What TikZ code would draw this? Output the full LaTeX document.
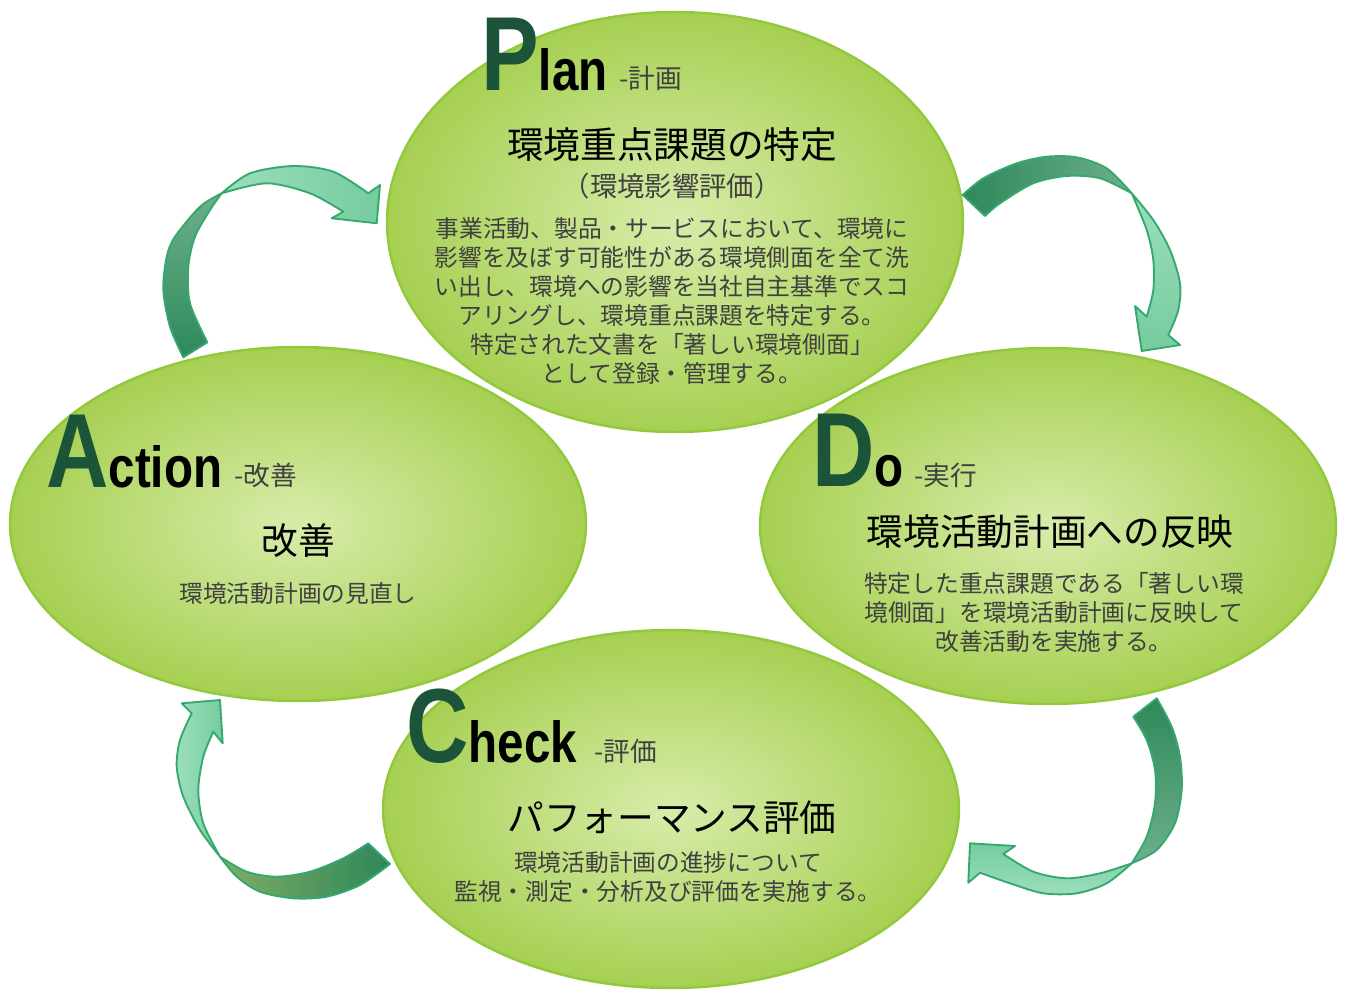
\documentclass[tikz,border=0pt]{standalone}
\usepackage{fontspec}
\newfontfamily\jp{Noto Sans CJK JP}
\newfontfamily\lat{Liberation Sans}[FakeStretch=0.82]
\definecolor{ellin}{RGB}{216,236,170}
\definecolor{ellout}{RGB}{166,208,82}
\definecolor{ellborder}{RGB}{146,200,60}
\definecolor{letgreen}{RGB}{27,84,56}
\definecolor{txtgray}{RGB}{64,64,64}
\definecolor{arrdark}{RGB}{46,136,90}
\definecolor{arrmid}{RGB}{108,176,140}
\definecolor{arrlight}{RGB}{156,222,188}
\definecolor{arrlight2}{RGB}{118,204,158}
\definecolor{arrolive}{RGB}{128,172,100}
\definecolor{arrborder}{RGB}{52,168,110}
\newcommand\bigL{\lat\bfseries\fontsize{79}{79}\selectfont\color{letgreen}}
\newcommand\midL{\lat\bfseries\fontsize{43.5}{43.5}\selectfont\color{black}}
\tikzset{
  halo/.style={draw=white, line width=6pt},
  ell/.style={shade, inner color=ellin, outer color=ellout, draw=ellborder, line width=1.8pt},
  arrpart/.style={draw=arrborder, line width=1.4pt, line join=round},
  lab/.style={anchor=base west, inner sep=0pt},
  tagJ/.style={anchor=base west, inner sep=0pt, font=\jp\fontsize{20}{20}\selectfont, text=txtgray},
  titJ/.style={inner sep=0pt, align=center, font=\jp\fontsize{27.5}{33}\selectfont, text=black},
  subJ/.style={inner sep=0pt, align=center, font=\jp\fontsize{20.5}{24}\selectfont, text=txtgray},
  bodyJ/.style={inner sep=0pt, align=center, font=\jp\fontsize{17.8}{21.75}\selectfont, text=txtgray},
}
\begin{document}
\begin{tikzpicture}[x=0.75pt, y=-0.75pt]
\useasboundingbox (0,0) rectangle (1345,989);
% ellipses
\coordinate (cP) at (675,222);
\coordinate (cA) at (298,524);
\coordinate (cD) at (1048,526);
\coordinate (cC) at (671,809);
\path[halo] (cP) ellipse [x radius=288, y radius=210];
\path[ell] (cP) ellipse [x radius=288, y radius=210];
\path[halo] (cA) ellipse [x radius=288, y radius=177];
\path[ell] (cA) ellipse [x radius=288, y radius=177];
\path[halo] (cD) ellipse [x radius=288, y radius=178];
\path[ell] (cD) ellipse [x radius=288, y radius=178];
\path[halo] (cC) ellipse [x radius=288, y radius=179];
\path[ell] (cC) ellipse [x radius=288, y radius=179];

% arrow 1 (Action -> Plan)
\path[arrpart, shade, top color=arrmid, bottom color=arrdark]
  plot[smooth] coordinates {(183.3,357.3) (170,326.7) (163.3,290) (166.7,256.7) (175,236.7) (200,206.7) (221.7,193.3)}
  -- plot[smooth] coordinates {(221.7,193.3) (210,210) (195,236.7) (188.3,266.7) (190,303.3) (207.3,342.3)} -- cycle;
\path[arrpart, shade, left color=arrlight, right color=arrlight2]
  plot[smooth] coordinates {(221.7,193.3) (250,173.3) (293.3,166) (333.3,171.7) (368.3,193.3)}
  -- (380,185) -- (376.7,223.3) -- (331.7,218.3)
  -- plot[smooth] coordinates {(343.3,211.7) (310,193.3) (266.7,183.3) (221.7,193.3)} -- cycle;

% arrow 2 (Plan -> Do)
\path[arrpart, shade, left color=arrdark, right color=arrmid]
  plot[smooth] coordinates {(962.7,195) (983.3,178.3) (1016.7,163.3) (1046.7,156.7) (1076.7,157.3) (1106.7,168.3) (1131.7,193.3)}
  -- plot[smooth] coordinates {(1131.7,193.3) (1100,178.3) (1066.7,176) (1033.3,183.3) (1000,203.3) (985,216)} -- cycle;
\path[arrpart, shade, top color=arrlight, bottom color=arrlight2]
  plot[smooth] coordinates {(1131.7,193.3) (1153.3,220) (1170,250) (1180,283.3) (1178.3,310) (1168.3,335)}
  -- (1180,345) -- (1141.7,351) -- (1135,306)
  -- plot[smooth] coordinates {(1146.7,316.7) (1153.3,290) (1153.3,260) (1146.7,230) (1131.7,193.3)} -- cycle;

% arrow 3 (Do -> Check)
\path[arrpart, shade, top color=arrdark, bottom color=arrmid]
  plot[smooth] coordinates {(1156.7,698.3) (1171.7,726.7) (1180,756.7) (1181.7,790) (1175,823.3) (1156.7,850) (1131.7,863.3)}
  -- plot[smooth] coordinates {(1131.7,863.3) (1146.7,836.7) (1155,803.3) (1155,770) (1146.7,740) (1133.3,716.7)} -- cycle;
\path[arrpart, shade, top color=arrlight2, bottom color=arrlight]
  plot[smooth] coordinates {(1131.7,863.3) (1106.7,883.3) (1076.7,893.3) (1043.3,893.3) (1010,883.3) (980,872.7)}
  -- (968.3,882.7) -- (970,843.3) -- (1015,846)
  -- plot[smooth] coordinates {(1003.3,854) (1033.3,871.7) (1066.7,878.3) (1100,873.3) (1131.7,863.3)} -- cycle;

% arrow 4 (Check -> Action)
\path[arrpart, shade, left color=arrolive, right color=arrdark]
  plot[smooth] coordinates {(390,864) (360,885) (326.7,896.7) (293.3,898.3) (260,891.7) (236.7,876.7) (220,856.7)}
  -- plot[smooth] coordinates {(220,856.7) (246.7,871.7) (276.7,876.7) (310,871.7) (343.3,858.3) (368.3,843.3)} -- cycle;
\path[arrpart, shade, left color=arrlight, right color=arrlight2]
  plot[smooth] coordinates {(220,856.7) (200,830) (183.3,796.7) (176.7,766.7) (180,740) (191.7,713.3)}
  -- (181.7,703.3) -- (220,700) -- (222.7,743.3)
  -- plot[smooth] coordinates {(213.3,731.7) (203.3,756.7) (198.3,790) (203.3,823.3) (220,856.7)} -- cycle;

% Plan texts
\node[lab] (pL) at (481,90) {\bigL P\midL lan};
\node[tagJ] (pT) at (619,88) {-計画};
\node[titJ] (pTitle) at (672,145) {環境重点課題の特定};
\node[subJ] (pSub) at (672,186) {（環境影響評価）};
\node[bodyJ] (pBody) at (672,300.5) {事業活動、製品・サービスにおいて、環境に\\影響を及ぼす可能性がある環境側面を全て洗\\い出し、環境への影響を当社自主基準でスコ\\アリングし、環境重点課題を特定する。\\特定された文書を「著しい環境側面」\\として登録・管理する。};

% Action texts
\node[lab] (aL) at (46,487) {\bigL A\midL ction};
\node[tagJ] (aT) at (234,485) {-改善};
\node[titJ] (aTitle) at (298,541) {改善};
\node[bodyJ] (aBody) at (298,593) {環境活動計画の見直し};

% Do texts
\node[lab] (dL) at (812,486) {\bigL D\midL o};
\node[tagJ] (dT) at (914,485) {-実行};
\node[titJ] (dTitle) at (1050,532) {環境活動計画への反映};
\node[bodyJ] (dBody) at (1054,612) {特定した重点課題である「著しい環\\境側面」を環境活動計画に反映して\\改善活動を実施する。};

% Check texts
\node[lab] (cL) at (406,762) {\bigL C\midL heck};
\node[tagJ] (cT) at (594,761) {-評価};
\node[titJ] (cTitle) at (672,818) {パフォーマンス評価};
\node[bodyJ] (cBody) at (668,877.5) {環境活動計画の進捗について\\監視・測定・分析及び評価を実施する。};
\end{tikzpicture}
\end{document}
